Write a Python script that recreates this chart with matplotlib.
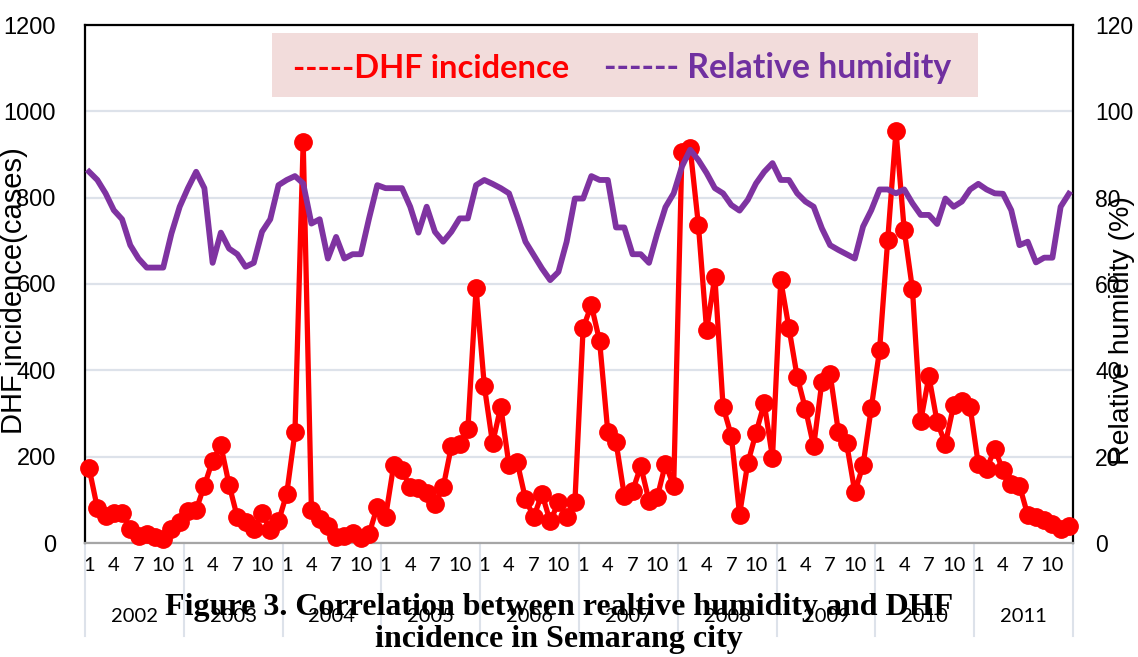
import matplotlib
matplotlib.use("Agg")
import matplotlib.pyplot as plt
import matplotlib.transforms as mtransforms
from matplotlib.patches import Rectangle

# Monthly series, Semarang city, Jan 2002 - Dec 2011
years = ["2002", "2003", "2004", "2005", "2006", "2007", "2008", "2009", "2010", "2011"]
month_labels = ["1", "4", "7", "10"]

dhf_cases = [
    173, 81, 63, 69, 69, 33, 17, 21, 13, 10, 33, 48,          # 2002
    75, 77, 133, 191, 226, 135, 60, 48, 33, 70, 29, 50,       # 2003
    114, 256, 930, 77, 56, 40, 13, 17, 23, 12, 21, 84,        # 2004
    60, 181, 168, 129, 127, 115, 91, 129, 224, 230, 263, 590, # 2005
    364, 231, 316, 180, 187, 102, 60, 114, 50, 94, 60, 94,    # 2006
    498, 551, 468, 257, 234, 110, 120, 178, 98, 106, 183, 132,# 2007
    905, 915, 737, 493, 617, 315, 249, 66, 185, 255, 324, 197,# 2008
    609, 498, 385, 311, 224, 373, 392, 258, 231, 118, 180, 313,# 2009
    446, 703, 955, 725, 588, 282, 386, 280, 230, 319, 330, 316,# 2010
    182, 172, 218, 168, 137, 133, 65, 60, 53, 43, 33, 40,     # 2011
]

humidity = [
    86.0, 84.1, 81.0, 77.1, 75.0, 69.0, 65.9, 63.8, 63.8, 63.8, 71.7, 77.9,  # 2002
    82.2, 86.0, 82.2, 64.9, 71.9, 68.2, 66.9, 64.0, 64.9, 72.1, 75.0, 82.9,  # 2003
    84.1, 85.0, 83.3, 74.0, 75.0, 65.9, 70.9, 65.9, 66.9, 66.9, 75.2, 82.9,  # 2004
    82.2, 82.2, 82.2, 77.9, 71.9, 77.9, 72.1, 69.8, 72.1, 75.2, 75.2, 82.9,  # 2005
    84.1, 83.2, 82.2, 81.0, 75.6, 69.8, 66.7, 63.6, 60.9, 62.8, 69.8, 79.8,  # 2006
    79.8, 85.0, 84.1, 84.1, 73.1, 73.1, 66.9, 66.9, 64.9, 71.7, 77.8, 81.0,  # 2007
    87.2, 91.1, 88.7, 85.7, 82.2, 81.0, 78.3, 77.0, 79.5, 83.3, 86.0, 88.0,  # 2008
    84.1, 84.1, 81.0, 79.1, 77.9, 72.9, 69.0, 67.9, 66.9, 65.9, 73.3, 77.1,  # 2009
    81.9, 81.9, 81.0, 81.9, 78.7, 76.0, 76.0, 73.9, 79.8, 77.9, 79.1, 81.9,  # 2010
    83.2, 81.9, 81.0, 80.9, 77.1, 69.0, 69.8, 65.0, 66.1, 66.1, 77.9, 80.9,  # 2011
]

dhf_ticks = [0, 200, 400, 600, 800, 1000, 1200]
rh_ticks = [0, 20, 40, 60, 80, 100, 120]

RED = "#ff0000"
PURPLE = "#7f33a1"
GRID = "#dde2ea"

fig = plt.figure(figsize=(11.38, 6.57), dpi=100)
ax = fig.add_axes([85 / 1138, 1 - 543 / 657, (1073 - 85) / 1138, (543 - 25) / 657])

n = len(dhf_cases)
x = list(range(n))

# DHF incidence (left axis)
ax.plot(x, dhf_cases, color=RED, lw=3.8, marker="o", ms=12.5, mfc=RED, mec=RED,
        zorder=3, clip_on=False)
ax.set_xlim(-0.5, n - 0.5)
ax.set_ylim(0, 1200)
ax.set_yticks(dhf_ticks)
ax.set_yticklabels([str(v) for v in dhf_ticks], fontfamily="Liberation Sans", fontsize=17)
ax.yaxis.grid(True, color=GRID, lw=1.6)
ax.set_axisbelow(True)
ax.tick_params(axis="y", length=0, pad=21)

# month ticks 1, 4, 7, 10 in every year
xt, xl = [], []
for k in range(len(years)):
    for j, m in enumerate(month_labels):
        xt.append(12 * k + 3 * j)
        xl.append(m)
ax.set_xticks(xt)
ax.set_xticklabels(xl, fontfamily="Lato", fontsize=14.5)
ax.tick_params(axis="x", length=0, pad=10)

# year separators and year labels below the axis
trans = mtransforms.blended_transform_factory(ax.transData, ax.transAxes)
for k in range(len(years) + 1):
    ax.plot([12 * k - 0.5, 12 * k - 0.5], [0, -0.18], color=GRID, lw=1.5,
            transform=trans, clip_on=False, zorder=1)
for k, yr in enumerate(years):
    ax.text(12 * k + 5.5, -0.142, yr, transform=trans, ha="center", va="center",
            fontfamily="Lato", fontsize=14.5)

ax.set_ylabel("DHF incidence(cases)", fontfamily="Liberation Sans", fontsize=21)
ax.yaxis.set_label_coords(-0.058, 0.488)

for side in ("left", "right", "top"):
    ax.spines[side].set_color("black")
    ax.spines[side].set_linewidth(1.6)
ax.spines["bottom"].set_color("#a6a6a6")
ax.spines["bottom"].set_linewidth(1.6)

# relative humidity (right axis)
ax2 = ax.twinx()
ax2.plot(x, humidity, color=PURPLE, lw=4.2, zorder=4)
ax2.set_xlim(-0.5, n - 0.5)
ax2.set_ylim(0, 120)
ax2.set_yticks(rh_ticks)
ax2.set_yticklabels([str(v) for v in rh_ticks], fontfamily="Liberation Sans", fontsize=16.5)
ax2.tick_params(axis="y", length=0, pad=16)
ax2.set_ylabel("Relative humidity (%)", fontfamily="Liberation Sans", fontsize=20.5,
               rotation=90)
ax2.yaxis.set_label_coords(1.036, 0.41)
for side in ("left", "right", "top", "bottom"):
    ax2.spines[side].set_visible(False)

# legend banner
fig.patches.append(Rectangle((272 / 1138, 1 - 97 / 657), (978 - 272) / 1138, 64 / 657,
                             transform=fig.transFigure, facecolor="#f2dcdb",
                             edgecolor="none", zorder=5))
fig.text(293 / 1138, 1 - 68 / 657, "-----DHF incidence", color=RED,
         fontfamily="Lato", fontweight="bold", fontsize=23.5, va="center", ha="left",
         zorder=6)
fig.text(604 / 1138, 1 - 68 / 657, "------ Relative humidity", color="#7030a0",
         fontfamily="Lato", fontweight="bold", fontsize=24.3, va="center", ha="left",
         zorder=6)

# caption
fig.text(559 / 1138, 1 - 607 / 657,
         "Figure 3. Correlation between realtive humidity and DHF",
         fontfamily="Liberation Serif", fontweight="bold", fontsize=23,
         ha="center", va="center", zorder=7)
fig.text(559 / 1138, 1 - 640 / 657, "incidence in Semarang city",
         fontfamily="Liberation Serif", fontweight="bold", fontsize=23,
         ha="center", va="center", zorder=7)

fig.savefig("out.png", dpi=100)
